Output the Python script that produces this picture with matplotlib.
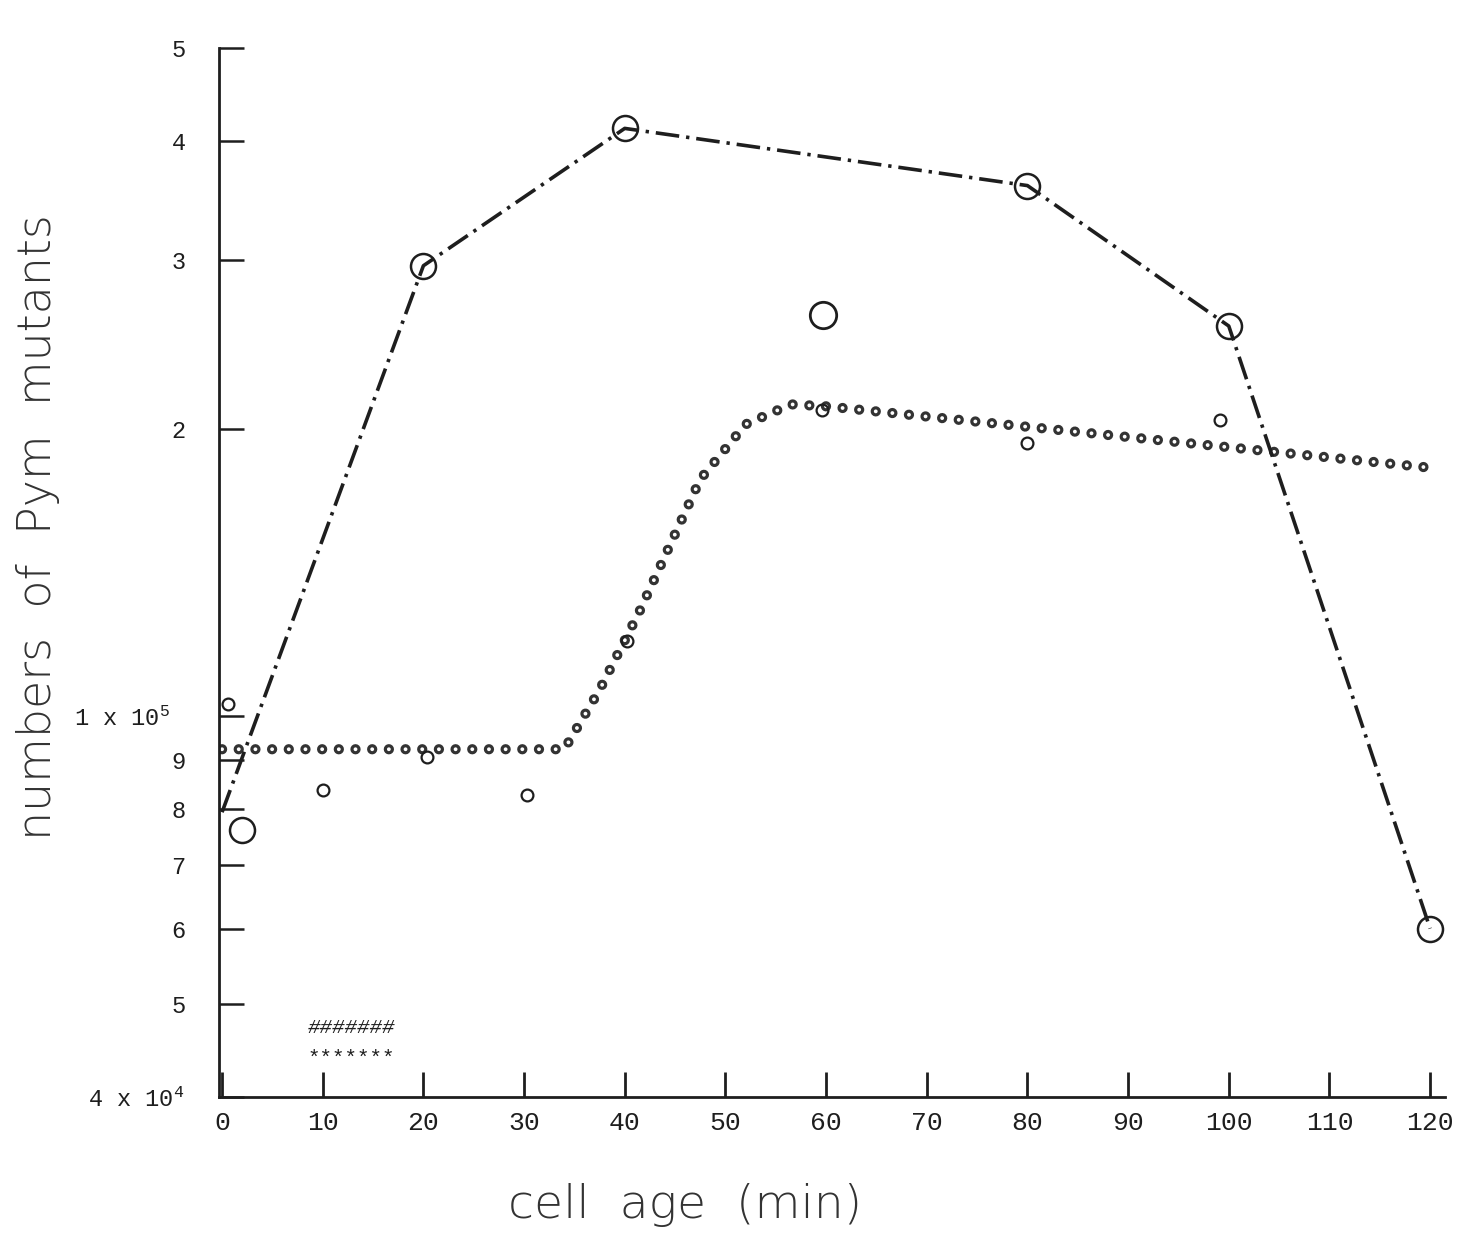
import matplotlib
matplotlib.use("Agg")
import matplotlib.pyplot as plt

plt.rcParams['lines.scale_dashes'] = False
plt.rcParams['mathtext.default'] = 'regular'

# dash-dot curve (line) and its big circle markers
line_age = [0, 20, 40, 80, 100, 120]
line_val = [7.94e4, 2.96e5, 4.12e5, 3.59e5, 2.56e5, 6.0e4]
big_age = [2, 20, 40, 80, 100, 120]
big_val = [7.6e4, 2.96e5, 4.12e5, 3.59e5, 2.56e5, 6.0e4]

# dotted curve (ringed line)
dot_age = [0, 34, 37.5, 41.5, 47.5, 52, 56.5, 60, 120]
dot_val = [9.24e4, 9.24e4, 1.066e5, 1.29e5, 1.77e5, 2.02e5, 2.12e5, 2.11e5, 1.82e5]

# scattered small circles
pt_age = [0.6, 10, 20.4, 30.3, 40.2, 59.6, 80, 99.1]
pt_val = [1.03e5, 8.37e4, 9.07e4, 8.27e4, 1.20e5, 2.09e5, 1.93e5, 2.04e5]

# lone big circle
lone_age = [59.7]
lone_val = [2.63e5]

yticks = [4e4, 5e4, 6e4, 7e4, 8e4, 9e4, 1e5, 2e5, 3e5, 4e5, 5e5]
ylabels = ["4 x 10$^4$ ", "5", "6", "7", "8", "9", "1 x 10$^5$  ", "2", "3", "4", "5"]
xticks = list(range(0, 121, 10))

ink = '#1e1e1e'
mono = 'Liberation Mono'

fig = plt.figure(figsize=(14.72, 12.37), dpi=100)
ax = fig.add_axes([0.1488, 0.1132, 0.833, 0.848])
ax.set_yscale('log')
ax.set_xlim(-0.3, 121.5)
ax.set_ylim(4e4, 5e5)

# dotted ring curve: dark dots then white centres
ax.plot(dot_age, dot_val, color='#333333', lw=7.4, dashes=(0.01, 12.0), dash_capstyle='round')
ax.plot(dot_age, dot_val, color='white', lw=2.8, dashes=(0.01, 12.0), dash_capstyle='round')

# dash-dot curve
ax.plot(line_age, line_val, color=ink, lw=2.6, dashes=(17, 5, 2.4, 5))
ax.plot(big_age, big_val, 'o', ms=18, mfc='none', mec=ink, mew=1.8)
ax.plot(lone_age, lone_val, 'o', ms=19, mfc='none', mec=ink, mew=2)
ax.plot(pt_age, pt_val, 'o', ms=8.5, mfc='none', mec=ink, mew=1.6)

ax.text(8.5, 4.73e4, "#######", family=mono, style='italic', fontsize=15,
        color=ink, va='center')
ax.text(8.5, 4.39e4, "*******", family=mono, fontsize=15, color=ink, va='center')

ax.set_yticks(yticks)
ax.set_yticklabels(ylabels, family=mono, fontsize=17, color=ink)
ax.minorticks_off()
ax.set_xticks(xticks)
ax.set_xticklabels([str(x) for x in xticks], family=mono, fontsize=19, color=ink)
ax.tick_params(axis='y', direction='in', length=18, width=1.8, pad=24, colors=ink)
ax.tick_params(axis='x', direction='in', length=18, width=2, pad=10, colors=ink)

for s in ['top', 'right']:
    ax.spines[s].set_visible(False)
for s in ['left', 'bottom']:
    ax.spines[s].set_linewidth(2)
    ax.spines[s].set_color(ink)

ax.set_xlabel("cell  age  (min)", fontsize=34, color='#333333', va='center',
              family='DejaVu Sans', fontweight='light')
ax.xaxis.set_label_coords(0.38, -0.103)
ax.set_ylabel("numbers  of  Pym  mutants", fontsize=33, color='#333333', va='center',
              family='DejaVu Sans', fontweight='light')
ax.yaxis.set_label_coords(-0.148, 0.543)

fig.savefig("out.png", dpi=100, facecolor='white')
